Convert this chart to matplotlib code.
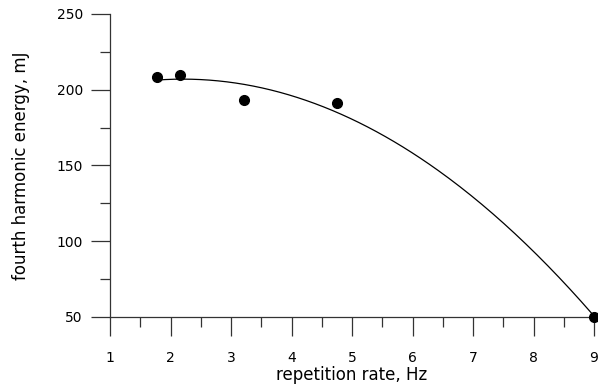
import numpy as np
import matplotlib.pyplot as plt
from matplotlib.ticker import MultipleLocator

rate = [1.77, 2.16, 3.21, 4.76, 9.0]
energy = [208.5, 209.5, 193.5, 191.0, 50.0]

# quadratic fit through the measured points
coef = np.polyfit(rate, energy, 2)
xfit = np.linspace(min(rate), max(rate), 200)
yfit = np.polyval(coef, xfit)

fig = plt.figure(figsize=(5.98, 3.92), dpi=100)
ax = fig.add_axes([110/598, 1-317/392, 484/598, 303/392])

ax.plot(xfit, yfit, color='black', lw=0.9, clip_on=False)
ax.plot(rate, energy, 'o', color='black', ms=7, clip_on=False, zorder=3)

ax.set_xlim(1, 9)
ax.set_ylim(50, 250)
ax.xaxis.set_major_locator(MultipleLocator(1))
ax.xaxis.set_minor_locator(MultipleLocator(0.5))
ax.yaxis.set_major_locator(MultipleLocator(50))
ax.yaxis.set_minor_locator(MultipleLocator(25))

for s in ['top', 'right']:
    ax.spines[s].set_visible(False)
for s in ['left', 'bottom']:
    ax.spines[s].set_linewidth(0.9)
    ax.spines[s].set_color('#333333')

ax.tick_params(which='major', length=13.5, width=0.9, color='#333333', labelsize=10)
ax.tick_params(axis='x', which='major', pad=11)
ax.tick_params(axis='y', which='major', pad=6)
ax.tick_params(which='minor', length=7, width=0.9, color='#333333')

ax.set_xlabel('repetition rate, Hz', fontsize=12, labelpad=1)
ax.set_ylabel('fourth harmonic energy, mJ', fontsize=12, labelpad=19)

fig.savefig('out.png', dpi=100)
